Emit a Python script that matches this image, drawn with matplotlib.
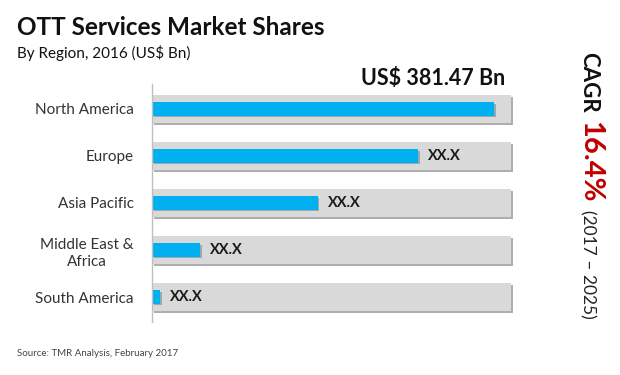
import matplotlib
matplotlib.use('Agg')
import matplotlib.pyplot as plt
import matplotlib.patheffects as pe

# data
regions = ['North America', 'Europe', 'Asia Pacific', 'Middle East &\nAfrica', 'South America']
values = [381.47, 297, 185, 54, 9]
value_labels = ['', 'XX.X', 'XX.X', 'XX.X', 'XX.X']
full_scale = 400
total_label = 'US$ 381.47 Bn'

plt.rcParams['font.family'] = ['Lato', 'DejaVu Sans']

fig = plt.figure(figsize=(6.2, 3.75), dpi=100)
ax = fig.add_axes([152/620, 1-322/375, 363/620, 238/375])

ypos = list(range(len(regions)))
shadow = [pe.SimplePatchShadow(offset=(1.5, -1.5), shadow_rgbFace='#8c8c8c', alpha=0.7), pe.Normal()]
bg = ax.barh(ypos, [full_scale]*len(regions), height=0.6, color='#d9d9d9', zorder=1)
for b in bg:
    b.set_path_effects(shadow)
fg = ax.barh(ypos, values, height=0.28, color='#00b0f0', zorder=2)
for b in fg:
    b.set_path_effects([pe.SimplePatchShadow(offset=(1.2, -1.2), shadow_rgbFace='#5a7a8a', alpha=0.5), pe.Normal()])

for y, v, lab in zip(ypos, values, value_labels):
    if lab:
        ax.annotate(lab, (v, y), xytext=(7, 0), textcoords='offset points',
                    ha='left', va='center', fontsize=10.5, fontweight='bold', color='#1a1a1a', zorder=3)

ax.set_xlim(0, 405)
ax.set_ylim(4.53, -0.53)
ax.set_yticks(ypos)
ax.set_yticklabels(regions, fontsize=11, color='#333333', multialignment='center', linespacing=1.3)
ax.tick_params(axis='y', length=0, pad=13)
ax.set_xticks([])
for s in ['top', 'right', 'bottom']:
    ax.spines[s].set_visible(False)
ax.spines['left'].set_color('#bfbfbf')
ax.spines['left'].set_linewidth(1)

fig.text(17/620, 1-35/375, 'OTT Services Market Shares', fontsize=17.5, fontweight='bold', color='#111111', va='baseline')
fig.text(17/620, 1-58/375, 'By Region, 2016 (US$ Bn)', fontsize=11, color='#111111', va='baseline')
fig.text(505/620, 1-85/375, total_label, fontsize=15.5, fontweight='bold', color='#111111', ha='right', va='baseline')

fig.text(589/620, 1-52/375, 'CAGR', rotation=270, fontsize=16, fontweight='bold', color='#111111', ha='center', va='top')
fig.text(590/620, 1-121/375, '16.4%', rotation=270, fontsize=21, fontweight='bold', color='#c00000', ha='center', va='top')
fig.text(588/620, 1-210/375, '(2017 \u2013 2025)', rotation=270, fontsize=12.5, color='#222222', ha='center', va='top')

fig.text(17/620, 1-356/375, 'Source: TMR Analysis, February 2017', fontsize=7, color='#444444', va='baseline')

fig.savefig('out.png', dpi=100)
